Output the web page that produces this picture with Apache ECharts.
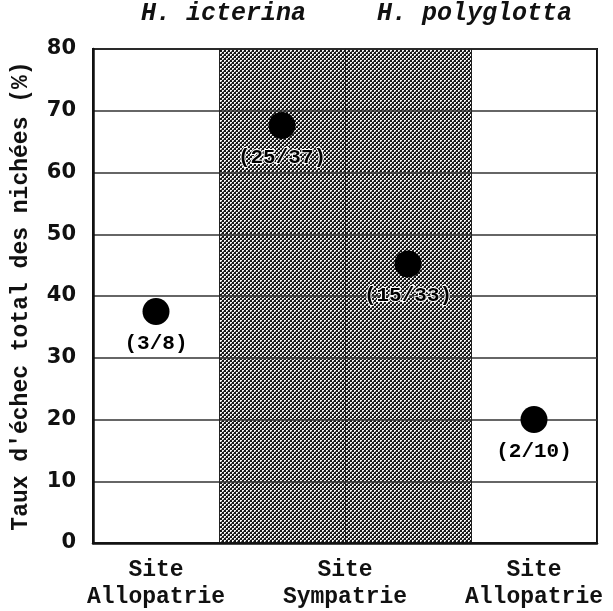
<!DOCTYPE html>
<html lang="fr">
<head>
    <meta charset="UTF-8">
    <title>Taux d'echec</title>
</head>
<style>
    html, body{
        margin: 0;
        padding: 0;
        background-color: #fff;
    }
    #main{
        width: 613px;
        height: 611px;
    }
</style>
<body>
<div id="main"></div>
<script src="https://cdn.jsdelivr.net/npm/echarts@6/dist/echarts.min.js"></script>
<script>
    // donnees
    var xPos = [0.5, 1.5, 2.5, 3.5];
    var failRate = [37.5, 67.6, 45.2, 20];
    var counts = ['(3/8)', '(25/37)', '(15/33)', '(2/10)'];
    var siteTicks = [0.5, 2, 3.5];
    var siteNames = ['Site\nAllopatrie', 'Site\nSympatrie', 'Site\nAllopatrie'];
    var sympatrieRange = [[1, 3]];
    var speciesNames = ['H. icterina', 'H. polyglotta'];
    var yMin = 0, yMax = 80, yStep = 10;

    var mono = "'Liberation Mono', 'DejaVu Sans Mono', monospace";

    // motif hachure (damier)
    var tile = document.createElement('canvas');
    tile.width = 4;
    tile.height = 4;
    var tctx = tile.getContext('2d');
    tctx.fillStyle = '#161616';
    tctx.fillRect(0, 0, 4, 4);
    tctx.fillStyle = '#f2f2f2';
    tctx.fillRect(0, 0, 2, 2);
    tctx.fillRect(2, 2, 2, 2);
    tctx.fillStyle = '#606060';
    tctx.fillRect(1, 1, 1, 1);
    tctx.fillRect(3, 3, 1, 1);

    var app = echarts.init(document.getElementById('main'));

    var points = [];
    for (var i = 0; i < xPos.length; i++) {
        points.push([xPos[i], failRate[i], counts[i]]);
    }

    var option = {
        animation: false,
        backgroundColor: '#fff',
        grid: {
            left: 93,
            right: 16,
            top: 49,
            bottom: 66,
            show: true,
            borderColor: '#111',
            borderWidth: 2
        },
        graphic: [
            {
                type: 'text', left: 141, top: 1,
                style: {text: speciesNames[0], font: 'italic bold 25px ' + mono, fill: '#111'}
            },
            {
                type: 'text', left: 377, top: 1,
                style: {text: speciesNames[1], font: 'italic bold 25px ' + mono, fill: '#111'}
            }
        ],
        xAxis: [
            {
                type: 'value',
                min: 0,
                max: 4,
                interval: 1,
                axisLine: {show: true, lineStyle: {color: '#111', width: 2.5}},
                axisTick: {show: false},
                axisLabel: {show: false},
                splitLine: {show: true, lineStyle: {color: '#222', width: 1}}
            },
            {
                type: 'value',
                position: 'bottom',
                min: 0,
                max: 4,
                interval: 0.5,
                axisLine: {show: false},
                axisTick: {show: false},
                splitLine: {show: false},
                axisLabel: {
                    margin: 14,
                    fontFamily: mono,
                    fontWeight: 'bold',
                    fontSize: 23,
                    lineHeight: 27,
                    color: '#111',
                    showMinLabel: true,
                    showMaxLabel: true,
                    formatter: function (v) {
                        for (var k = 0; k < siteTicks.length; k++) {
                            if (Math.abs(siteTicks[k] - v) < 1e-6) {
                                return siteNames[k];
                            }
                        }
                        return '';
                    }
                }
            }
        ],
        yAxis: {
            type: 'value',
            min: yMin,
            max: yMax,
            interval: yStep,
            name: "Taux d'échec total des nichées (%)",
            nameLocation: 'middle',
            nameRotate: 90,
            nameGap: 60,
            nameTextStyle: {
                fontFamily: mono,
                fontWeight: 'bold',
                fontSize: 23,
                color: '#111'
            },
            axisLine: {show: true, lineStyle: {color: '#111', width: 2.5}},
            axisTick: {show: false},
            axisLabel: {
                margin: 17,
                fontFamily: "'DejaVu Sans', Verdana, sans-serif",
                fontWeight: 'bold',
                fontSize: 21,
                color: '#111'
            },
            splitLine: {show: true, lineStyle: {color: '#333', width: 1.5}}
        },
        series: [
            {
                type: 'custom',
                z: -1,
                silent: true,
                data: sympatrieRange,
                renderItem: function (params, api) {
                    var p0 = api.coord([api.value(0), yMax]);
                    var p1 = api.coord([api.value(1), yMin]);
                    return {
                        type: 'rect',
                        shape: {x: p0[0], y: p0[1], width: p1[0] - p0[0], height: p1[1] - p0[1]},
                        style: {fill: {image: tile, repeat: 'repeat'}}
                    };
                }
            },
            {
                type: 'scatter',
                symbol: 'circle',
                symbolSize: 27,
                itemStyle: {color: '#000', opacity: 1},
                data: points,
                label: {
                    show: true,
                    position: 'bottom',
                    distance: 8,
                    formatter: function (p) {
                        return p.data[2];
                    },
                    fontFamily: mono,
                    fontWeight: 'bold',
                    fontSize: 21,
                    color: '#000',
                    opacity: 1,
                    textBorderColor: '#fff',
                    textBorderWidth: 2
                }
            }
        ]
    };
    app.setOption(option);
</script>
</body>
</html>
